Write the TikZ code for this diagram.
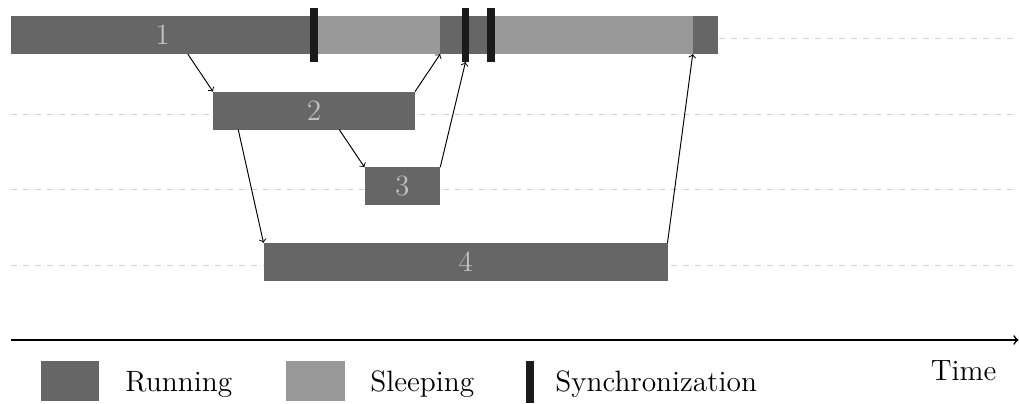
\documentclass[tikz,border=0pt]{standalone}
\definecolor{runc}{HTML}{666666}
\definecolor{sleepc}{HTML}{999999}
\definecolor{syncc}{HTML}{1A1A1A}
\definecolor{barlabel}{HTML}{C0C0C0}
\definecolor{lanec}{HTML}{D2D2D2}
\begin{document}
\begin{tikzpicture}[x=0.5pt,y=-0.5pt,
  font=\fontsize{14.7}{17}\selectfont,
  bar/.style={rectangle, inner sep=0pt, outer sep=0pt, anchor=north west,
    minimum height=19pt, text=barlabel},
  running/.style={bar, fill=runc},
  sleeping/.style={bar, fill=sleepc},
  syncbar/.style={rectangle, inner sep=0pt, outer sep=0pt, fill=syncc,
    minimum width=3.75pt, minimum height=27pt},
  lane/.style={dashed, draw=lanec, line width=0.4pt},
  link/.style={->, black, line width=0.48pt},
  legendbox/.style={rectangle, inner sep=0pt, outer sep=0pt, minimum height=20pt},
  legendtext/.style={anchor=base west, inner sep=0pt, text=black}]
\useasboundingbox (0,0) rectangle (1019,403);

% dashed lanes, one per task
\foreach \ly in {38.3,113.9,189.5,265.1}
  \draw[lane] (11,\ly) -- (1019,\ly);

% task 1: running / sleeping segments
\node[running, minimum width=151.5pt]  (r1a) at (11,16) {1};
\node[sleeping, minimum width=63.125pt] (r1b) at (314,16) {};
\node[running, minimum width=25.25pt]  (r1c) at (440.25,16) {};
\node[sleeping, minimum width=101pt]   (r1d) at (490.75,16) {};
\node[running, minimum width=12.625pt] (r1e) at (692.75,16) {};

% synchronization points on task 1
\node[syncbar] (s1) at (314,35) {};
\node[syncbar] (s2) at (465.5,35) {};
\node[syncbar] (s3) at (490.75,35) {};

% child tasks
\node[running, minimum width=101pt]    (r2) at (213,91.6) {2};
\node[running, minimum width=37.875pt] (r3) at (364.5,167.2) {3};
\node[running, minimum width=202pt]    (r4) at (263.5,242.8) {4};

% spawn points
\coordinate (f12) at (187.75,54);
\coordinate (f23) at (339.25,129.6);
\coordinate (f24) at (238.25,129.6);

% spawn and join arrows
\draw[link] (f12) -- (r2.north west);
\draw[link] (r2.north east) -- (r1c.south west);
\draw[link] (f23) -- (r3.north west);
\draw[link] (f24) -- (r4.north west);
\draw[link] (r3.north east) -- (s2.south);
\draw[link] (r4.north east) -- (r1e.south west);

% time axis
\coordinate (t0) at (11,340);
\coordinate (t1) at (1018.5,340);
\draw[thick,->] (t0) -- (t1);
\node[legendtext] (time) at (930.5,380) {Time};

% legend
\node[legendbox, fill=runc, minimum width=29pt] (lrun) at (70,381) {};
\node[legendtext] (lruntxt) at (125,391.7) {Running};
\node[legendbox, fill=sleepc, minimum width=29.5pt] (lsleep) at (315.5,381) {};
\node[legendtext] (lsleeptxt) at (370,391.7) {Sleeping};
\node[legendbox, fill=syncc, minimum width=3.75pt, minimum height=21pt] (lsync) at (529.75,382) {};
\node[legendtext] (lsynctxt) at (555,391.7) {Synchronization};
\end{tikzpicture}
\end{document}
